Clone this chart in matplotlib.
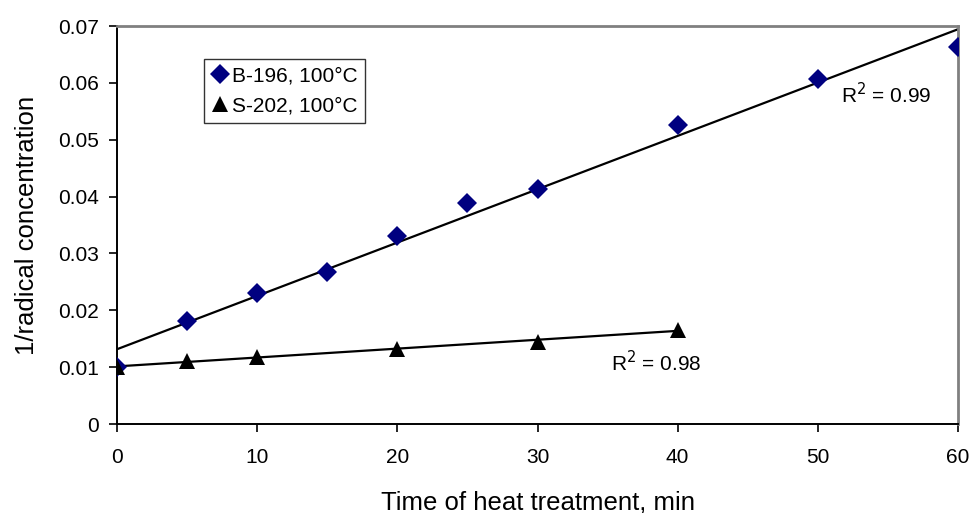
import numpy as np
import matplotlib.pyplot as plt

plt.rcParams['font.family'] = ['Liberation Sans', 'DejaVu Sans']

# B-196, 100°C
time_b = [0, 5, 10, 15, 20, 25, 30, 40, 50, 60]
conc_b = [0.0100, 0.0182, 0.0230, 0.0267, 0.0330, 0.0389, 0.0413, 0.0526, 0.0607, 0.0663]
# S-202, 100°C
time_s = [0, 5, 10, 20, 30, 40]
conc_s = [0.0100, 0.0111, 0.0118, 0.0132, 0.0145, 0.0166]

r2_labels = ['R$^2$ = 0.99', 'R$^2$ = 0.98']

if __name__ == '__main__':

    fig = plt.figure(figsize=(9.72, 5.13), dpi=100)
    ax = fig.add_axes([117 / 972, 89 / 513, 841 / 972, 398 / 513])

    ''' Trend lines '''
    for tx, ty in ((time_b, conc_b), (time_s, conc_s)):
        p = np.polyfit(tx, ty, 1)
        xs = np.array([min(tx), max(tx)])
        ax.plot(xs, np.polyval(p, xs), color='black', lw=1.6, zorder=2)

    ''' Points '''
    ax.plot(time_b, conc_b, 'D', color='#000080', markersize=10.5,
            markeredgewidth=0, label='B-196, 100°C', zorder=3)
    ax.plot(time_s, conc_s, '^', color='black', markersize=11,
            markeredgewidth=0, label='S-202, 100°C', zorder=4)

    ax.text(54.9, 0.0580, r2_labels[0], fontsize=15, ha='center', va='center')
    ax.text(38.5, 0.0108, r2_labels[1], fontsize=15, ha='center', va='center')

    ax.set_xlim(0, 60)
    ax.set_ylim(0, 0.07)
    ax.set_xticks(np.arange(0, 61, 10))
    ax.set_yticks(np.arange(0, 0.0701, 0.01))
    ax.set_yticklabels(['0', '0.01', '0.02', '0.03', '0.04', '0.05', '0.06', '0.07'])
    ax.tick_params(axis='both', labelsize=15, length=6, width=1.2, direction='out')
    ax.tick_params(axis='x', pad=11)
    ax.tick_params(axis='y', pad=7)

    for side in ('left', 'bottom'):
        ax.spines[side].set_color('black')
        ax.spines[side].set_linewidth(1.4)
    for side in ('top', 'right'):
        ax.spines[side].set_color('#808080')
        ax.spines[side].set_linewidth(2)

    ax.set_xlabel('Time of heat treatment, min', fontsize=18.5, labelpad=17)
    ax.set_ylabel('1/radical concentration', fontsize=18.5, labelpad=14)

    leg = ax.legend(loc='upper left', bbox_to_anchor=(0.1034, 0.917),
                    fontsize=15, frameon=True, fancybox=False, borderaxespad=0,
                    handlelength=0.8, handletextpad=0.2, borderpad=0.35,
                    labelspacing=0.55)
    leg.get_frame().set_edgecolor('black')
    leg.get_frame().set_linewidth(1)

    plt.savefig('out.png', dpi=100)
    plt.close(fig)
